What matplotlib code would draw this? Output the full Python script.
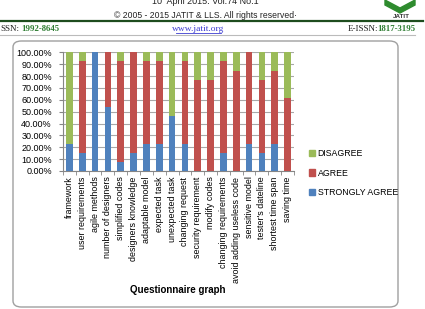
import matplotlib
matplotlib.use('Agg')
import matplotlib.pyplot as plt
from matplotlib.patches import FancyBboxPatch, Patch, Polygon
from matplotlib.lines import Line2D
import numpy as np

plt.rcParams['font.family'] = ['Liberation Sans', 'DejaVu Sans']

# Questionnaire answers (13 respondents, shown as percentages)
categories = ['framework', 'user requirements', 'agile methods', 'number of designers',
              'simplified codes', 'designers knowledge', 'adaptable model', 'expected task',
              'unexpected task', 'changing request', 'security requirement', 'modify codes',
              'changing requirements', 'avoid adding useless code', 'sensitive model',
              "tester's dateline", 'shortest time span', 'saving time']
strongly_agree = [23.08, 15.38, 100.0, 53.85, 7.69, 15.38, 23.08, 23.08, 46.15,
                  23.08, 0.0, 0.0, 15.38, 0.0, 23.08, 15.38, 23.08, 0.0]
agree = [0.0, 76.92, 0.0, 46.15, 84.62, 84.62, 69.23, 69.23, 0.0,
         69.23, 76.92, 76.92, 76.92, 84.62, 76.92, 61.54, 61.54, 61.54]
disagree = [76.92, 7.69, 0.0, 0.0, 7.69, 0.0, 7.69, 7.69, 53.85,
            7.69, 23.08, 23.08, 7.69, 15.38, 0.0, 23.08, 15.38, 38.46]
yticks = np.arange(0, 101, 10)
ytick_labels = ['%.2f%%' % v for v in yticks]

c_sa = '#4F81BD'
c_ag = '#C0504D'
c_dis = '#9BBB59'

fig = plt.figure(figsize=(4.25, 3.09), dpi=100)
W, H = 425.0, 309.0

def fx(px):
    return px / W

def fy(py):
    return 1 - py / H

# page header pieces
fig.text(fx(205), fy(1.5), '10  April 2015. Vol.74 No.1', ha='center', va='center',
         fontsize=6.5, color='#222222')
fig.text(fx(205), fy(15), '\u00a9 2005 - 2015 JATIT & LLS. All rights reserved\u00b7',
         ha='center', va='center', fontsize=6.2, color='#222222')
fig.add_artist(Line2D([0, fx(423)], [fy(20.5), fy(20.5)], color='#1e4d1e', lw=1.6))
fig.text(fx(0), fy(29), 'SSN:', ha='left', va='center', fontsize=6.5,
         family='Liberation Serif', color='#222222')
fig.text(fx(21), fy(29), '1992-8645', ha='left', va='center', fontsize=6.3,
         family='Liberation Serif', color='#2e7d32', weight='bold')
fig.text(fx(198), fy(29), 'www.jatit.org', ha='center', va='center', fontsize=6.8,
         family='Liberation Serif', color='#3b3bd0')
fig.add_artist(Line2D([fx(176), fx(221)], [fy(33), fy(33)], color='#3b3bd0', lw=0.6))
fig.text(fx(348), fy(29), 'E-ISSN:', ha='left', va='center', fontsize=6.5,
         family='Liberation Serif', color='#222222')
fig.text(fx(415), fy(29), '1817-3195', ha='right', va='center', fontsize=6.3,
         family='Liberation Serif', color='#2e7d32', weight='bold')
fig.add_artist(Line2D([0, fx(415)], [fy(34.5), fy(34.5)], color='#bbbbbb', lw=0.8))

# small logo at top right
fig.add_artist(Polygon([[fx(385), fy(0)], [fx(400), fy(8)], [fx(415), fy(0)], [fx(415), fy(5)],
                        [fx(400), fy(13)], [fx(385), fy(5)]], closed=True,
                       transform=fig.transFigure, color='#2e8b2e'))
fig.text(fx(401), fy(16.5), 'JATIT', ha='center', va='center', fontsize=4.5,
         weight='bold', color='#333333')

# chart area border
box = FancyBboxPatch((fx(13), fy(307)), fx(398) - fx(13), fy(41) - fy(307),
                     boxstyle='round,pad=0,rounding_size=0.02', transform=fig.transFigure,
                     facecolor='white', edgecolor='#a0a0a0', lw=1.0, zorder=-5)
fig.add_artist(box)

ax = fig.add_axes([fx(63), fy(171), fx(294) - fx(63), fy(52.3) - fy(171)])
ax.set_zorder(2)
x = np.arange(len(categories))
w = 0.52
ax.bar(x, strongly_agree, w, color=c_sa, label='STRONGLY AGREE', zorder=3)
ax.bar(x, agree, w, bottom=strongly_agree, color=c_ag, label='AGREE', zorder=3)
bottom2 = [a + b for a, b in zip(strongly_agree, agree)]
ax.bar(x, disagree, w, bottom=bottom2, color=c_dis, label='DISAGREE', zorder=3)

ax.set_xlim(-0.5, len(categories) - 0.5)
ax.set_ylim(0, 100)
ax.set_yticks(yticks)
ax.set_yticklabels(ytick_labels, fontsize=6.5)
ax.set_xticks(x)
ax.set_xticklabels(categories, rotation=90, fontsize=6.4, va='top', ha='center')
ax.tick_params(axis='x', length=0, pad=4)
ax.set_xticks(np.arange(-0.5, len(categories), 1), minor=True)
ax.tick_params(axis='x', which='minor', length=3, color='#868686')
ax.tick_params(axis='y', length=3, color='#868686', pad=5)
ax.yaxis.grid(True, color='#a8a8a8', lw=0.8, zorder=0)
for s in ['top', 'right']:
    ax.spines[s].set_visible(False)
for s in ['left', 'bottom']:
    ax.spines[s].set_color('#868686')
    ax.spines[s].set_linewidth(0.8)
ax.set_facecolor('none')

fig.text(fx(178), fy(290), 'Questionnaire graph', ha='center', va='center',
         fontsize=7, weight='bold')

handles = [Patch(color=c_dis), Patch(color=c_ag), Patch(color=c_sa)]
fig.legend(handles, ['DISAGREE', 'AGREE', 'STRONGLY AGREE'], loc='center left',
           bbox_to_anchor=(fx(301), fy(173)), frameon=False, fontsize=6.3,
           handlelength=0.7, handleheight=0.7, handletextpad=0.3, labelspacing=1.2)

fig.savefig('out.png', dpi=100)
